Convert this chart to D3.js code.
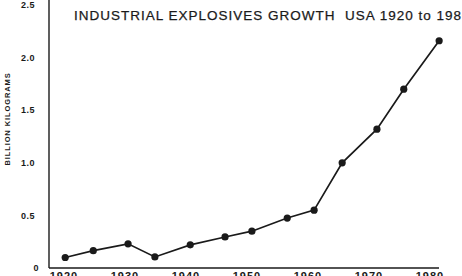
<!DOCTYPE html>
<html>
<head>
<meta charset="utf-8">
<script src="https://cdn.jsdelivr.net/npm/d3@7"></script>
<style>
  body { margin: 0; background: #fff; }
  svg { display: block; }
  text { font-family: "Liberation Sans", Arial, sans-serif; fill: #1a1a1a; }
</style>
</head>
<body>
<div id="chart"></div>
<script>
// values (years as plotted, billion kg)
const years  = [1920.2, 1924.8, 1930.5, 1934.9, 1940.7, 1946.4, 1950.8, 1956.6, 1961.0, 1965.6, 1971.3, 1975.7, 1981.5];
const values = [0.10, 0.165, 0.23, 0.105, 0.22, 0.295, 0.35, 0.475, 0.55, 1.00, 1.32, 1.70, 2.16];
const xTicks = [1920, 1930, 1940, 1950, 1960, 1970, 1980];
const yTicks = [0, 0.5, 1.0, 1.5, 2.0, 2.5];
const yTickLabels = ["0", "0.5", "1.0", "1.5", "2.0", "2.5"];
const title = "INDUSTRIAL EXPLOSIVES GROWTH  USA 1920 to 1980";
const yLabel = "BILLION KILOGRAMS";

const W = 462, H = 276;
const ink = "#1a1a1a";

var svg = d3.select("#chart").append("svg")
  .attr("width", W).attr("height", H);

var x = d3.scaleLinear().domain([1920, 1980]).range([64, 430]);
var y = d3.scaleLinear().domain([0, 2.5]).range([268, 5]);

// axes lines
svg.append("line")
  .attr("x1", 49).attr("x2", 49).attr("y1", 0).attr("y2", y(0))
  .attr("stroke", ink).attr("stroke-width", 1.4);
svg.append("line")
  .attr("x1", 49).attr("x2", 439).attr("y1", y(0)).attr("y2", y(0))
  .attr("stroke", ink).attr("stroke-width", 1.6);

// y tick labels
svg.selectAll(".ytick").data(yTicks).enter().append("text")
  .attr("class", "ytick")
  .attr("x", (d) => d === 0 ? 39 : 35)
  .attr("y", (d) => y(d))
  .attr("dy", "0.35em")
  .attr("text-anchor", "end")
  .style("font-size", "9px")
  .style("font-weight", "bold")
  .style("letter-spacing", "0.5px")
  .text((d, i) => yTickLabels[i]);

// x tick labels (cut by the bottom edge as in the original)
svg.selectAll(".xtick").data(xTicks).enter().append("text")
  .attr("class", "xtick")
  .attr("x", (d) => x(d))
  .attr("y", 280)
  .attr("text-anchor", "middle")
  .style("font-size", "11px")
  .style("font-weight", "bold")
  .style("letter-spacing", "1px")
  .text((d) => d);

// y axis title
svg.append("text")
  .attr("transform", "translate(10,119) rotate(-90)")
  .attr("text-anchor", "middle")
  .style("font-size", "7.5px")
  .style("font-weight", "bold")
  .style("letter-spacing", "0.9px")
  .text(yLabel);

// chart title, spaced so "198" reaches the right edge
var tt = svg.append("text")
  .attr("x", 74).attr("y", 20)
  .attr("xml:space", "preserve")
  .style("white-space", "pre")
  .style("font-size", "13.5px")
  .style("stroke", ink)
  .style("stroke-width", 0.25)
  .text(title);
var baseLen = tt.node().getSubStringLength(0, title.length - 1);
tt.style("letter-spacing", ((388 - baseLen) / (title.length - 1)) + "px");

// series
var pts = years.map((yr, i) => ({yr: yr, v: values[i]}));
var line = d3.line().x((d) => x(d.yr)).y((d) => y(d.v));

svg.append("path")
  .datum(pts)
  .attr("d", line)
  .attr("fill", "none")
  .attr("stroke", ink)
  .attr("stroke-width", 1.7);

svg.selectAll(".dot").data(pts).enter().append("circle")
  .attr("class", "dot")
  .attr("cx", (d) => x(d.yr))
  .attr("cy", (d) => y(d.v))
  .attr("r", 3.6)
  .attr("fill", ink);
</script>
</body>
</html>
